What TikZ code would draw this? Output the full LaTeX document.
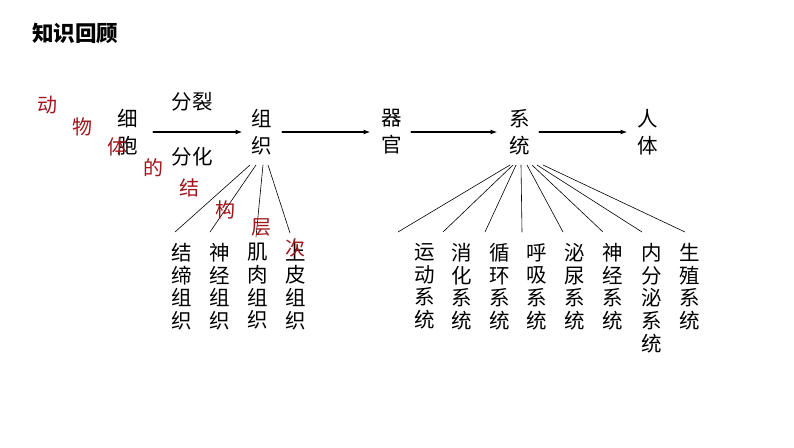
\documentclass[tikz,border=0pt]{standalone}
\usepackage{fontspec}
\setmainfont{Noto Sans CJK SC}
\usetikzlibrary{arrows.meta}
\definecolor{cengred}{RGB}{160,22,28}

\begin{document}
\begin{tikzpicture}[x=1pt,y=-1pt,line cap=round,line join=round,
  word/.style={font=\fontsize{20.5}{27}\selectfont,align=center,inner sep=0pt},
  leaf/.style={font=\fontsize{20.5}{22.7}\selectfont,align=center,inner sep=0pt,anchor=north},
  redch/.style={font=\fontsize{20}{22}\selectfont,text=cengred,inner sep=0pt},
  flow/.style={line width=2pt,-{Latex[length=7pt,width=5pt]}},
  fan/.style={line width=0.6pt}]
  \useasboundingbox (0,0) rectangle (794,447);
  \node[font=\fontsize{21.5}{24}\selectfont\bfseries,inner sep=0pt] (title) at (75,33) {知识回顾};
  \node[word] (xibao) at (128,132) {细\\胞};
  \node[word] (zuzhi) at (262,132) {组\\织};
  \node[word] (qiguan) at (392,132) {器\\官};
  \node[word] (xitong) at (520,132) {系\\统};
  \node[word] (renti) at (648,132) {人\\体};
  \node[word] (fenlie) at (192,102) {分裂};
  \node[word] (fenhua) at (192,157) {分化};
  \draw[flow,shorten <=15pt,shorten >=9pt] (xibao.east) -- (zuzhi.west);
  \draw[flow,shorten <=10pt,shorten >=11pt] (zuzhi.east) -- (qiguan.west);
  \draw[flow,shorten <=9pt,shorten >=12pt] (qiguan.east) -- (xitong.west);
  \draw[flow,shorten <=9pt,shorten >=10pt] (xitong.east) -- (renti.west);
  \node[leaf] (jiedi) at (182,243) {结\\缔\\组\\织};
  \node[leaf] (shenjing) at (220,243) {神\\经\\组\\织};
  \node[leaf] (jirou) at (258,243) {肌\\肉\\组\\织};
  \node[leaf] (shangpi) at (296,243) {上\\皮\\组\\织};
  \foreach \sx/\ex/\ey [count=\i] in {250/175/232,256/210/232,263/256/237,268/290/233} {
    \coordinate (zs\i) at (\sx,165);
    \coordinate (ze\i) at (\ex,\ey);
    \draw[fan] (zs\i) -- (ze\i);
  }
  \node[leaf] (yundong) at (425,243) {运\\动\\系\\统};
  \node[leaf] (xiaohua) at (462,243) {消\\化\\系\\统};
  \node[leaf] (xunhuan) at (500,243) {循\\环\\系\\统};
  \node[leaf] (huxi) at (537,243) {呼\\吸\\系\\统};
  \node[leaf] (miniao) at (575,243) {泌\\尿\\系\\统};
  \node[leaf] (shenjingxt) at (613,243) {神\\经\\系\\统};
  \node[leaf] (neifenmi) at (652,243) {内\\分\\泌\\系\\统};
  \node[leaf] (shengzhi) at (690,243) {生\\殖\\系\\统};
  \foreach \sx/\ex [count=\i] in {510/398,513/443,516/485,521/522,527/563,532/603,537/642,543/685} {
    \coordinate (xs\i) at (\sx,165);
    \coordinate (xe\i) at (\ex,232);
    \draw[fan] (xs\i) -- (xe\i);
  }
  \node[redch] (r1) at (47,105) {动};
  \node[redch] (r2) at (82,127) {物};
  \node[redch] (r3) at (117,147) {体};
  \node[redch] (r4) at (153,168) {的};
  \node[redch] (r5) at (189,188) {结};
  \node[redch] (r6) at (225,210) {构};
  \node[redch] (r7) at (261,227) {层};
  \node[redch] (r8) at (295,248) {次};
\end{tikzpicture}
\end{document}
